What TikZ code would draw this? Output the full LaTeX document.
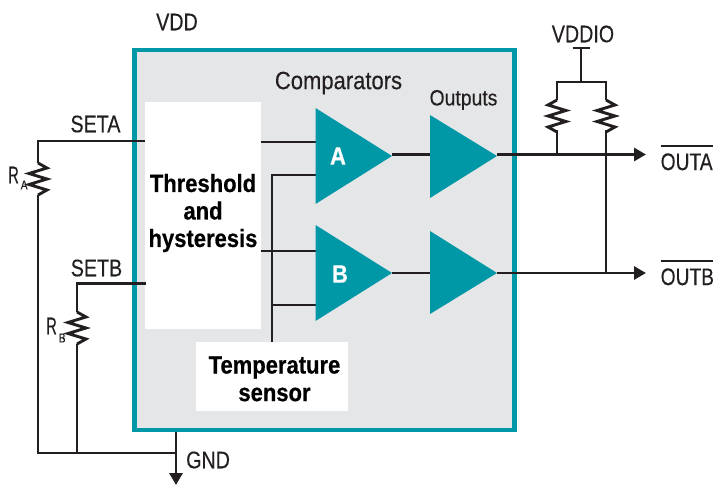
\documentclass[tikz,border=0pt]{standalone}
\usepackage{graphicx}
\usepackage{fontspec}
\setmainfont{Liberation Sans}
\newfontfamily\condreg[FakeStretch=0.82,FakeBold=0.25]{Liberation Sans}
\newfontfamily\condnar[FakeStretch=0.8,FakeBold=0.25]{Liberation Sans}
\newfontfamily\condwide[FakeStretch=0.88,FakeBold=0.25]{Liberation Sans}
\newfontfamily\condbold[FakeStretch=0.88,FakeBold=0.5]{Liberation Sans Bold}
\usetikzlibrary{arrows.meta}
\definecolor{teal1}{HTML}{0097A6}
\definecolor{panel}{HTML}{E5E6E8}
\definecolor{ink}{HTML}{231F20}
\newcommand{\barred}[1]{\vbox{\hrule height 1.6pt\kern 6.5pt\hbox{#1}}}
\tikzset{
  lab/.style={inner sep=0pt,text=ink,font=\condreg\fontsize{24}{28}\selectfont},
  sublab/.style={inner sep=0pt,text=ink,anchor=west,font=\condnar\fontsize{13}{15}\selectfont},
  boldlab/.style={inner sep=0pt,text=black,align=center,font=\condbold\fontsize{25}{27.5}\selectfont},
  gate/.style={fill=teal1,draw=none},
  wire/.style={draw=ink,line width=2.9pt,line join=miter},
  arrowwire/.style={wire,-{Triangle[length=12pt,width=13pt]}},
  whitebox/.style={fill=white,draw=none,inner sep=0pt,outer sep=0pt,anchor=north west},
  pics/resistor/.style={code={
    \draw[wire,pic actions] (0,0) -- (9,5) -- (-9,10.5) -- (9,16) -- (-9,21.5) -- (9,27) -- (0,32);
  }},
  pics/resistorL/.style={code={
    \draw[wire,pic actions] (0,0) -- (-9,5) -- (9,10.5) -- (-9,16) -- (9,21.5) -- (-9,27) -- (0,32);
  }},
}
\begin{document}
\begin{tikzpicture}[x=1pt,y=-1pt]
\useasboundingbox (0,0) rectangle (713,485);
% main panel
\node[fill=panel,draw=teal1,line width=4.4pt,inner sep=0pt,outer sep=0pt,anchor=north west,minimum width=380pt,minimum height=380pt] (chip) at (134.5,50) {};
\node[whitebox,minimum width=116pt,minimum height=227pt] (thr) at (145,102) {};
\node[whitebox,minimum width=152pt,minimum height=69pt] (temp) at (196,342) {};
% coordinates
\coordinate (thrA) at (261,142);
\coordinate (thrB) at (261,251);
\coordinate (gAin) at (316,142);
\coordinate (gAt) at (316,175);
\coordinate (gBin) at (316,251);
\coordinate (gBt) at (316,305);
\coordinate (tA) at (272,175);
\coordinate (tB) at (272,305);
\coordinate (tS) at (272,342);
\coordinate (gAout) at (392,154.5);
\coordinate (gBout) at (392,273);
\coordinate (oA) at (430,154.5);
\coordinate (oB) at (430,273);
\coordinate (oAtip) at (497,154.5);
\coordinate (oBtip) at (497,273);
\coordinate (endA) at (646,154.5);
\coordinate (endB) at (646,273);
\coordinate (vio) at (581,48);
\coordinate (vioj) at (581,82);
\coordinate (r1t) at (557,82);
\coordinate (r2t) at (606,82);
\coordinate (r1top) at (557,100);
\coordinate (r1bot) at (557,130);
\coordinate (r2top) at (606,100);
\coordinate (r2bot) at (606,130);
\coordinate (r1j) at (557,154.5);
\coordinate (r2j) at (606,273);
\coordinate (setAin) at (145,141);
\coordinate (setAc) at (38,141);
\coordinate (raT) at (38,163);
\coordinate (raB) at (38,195);
\coordinate (gndL) at (38,453);
\coordinate (setBin) at (146,283.5);
\coordinate (setBc) at (77,283.5);
\coordinate (rbT) at (77,312);
\coordinate (rbB) at (77,344);
\coordinate (gndB) at (77,453);
\coordinate (gndJ) at (176,453);
\coordinate (gndTop) at (176,432);
\coordinate (gndEnd) at (176,485);
% wires
\draw[wire] (thrA) -- (gAin);
\draw[wire] (thrB) -- (gBin);
\draw[wire] (tS) -- (tA) -- (gAt);
\draw[wire] (tB) -- (gBt);
\draw[wire] (gAout) -- (oA);
\draw[wire] (gBout) -- (oB);
\draw[arrowwire] (oAtip) -- (endA);
\draw[arrowwire] (oBtip) -- (endB);
\draw[wire] (572.5,48) -- (589.5,48);
\draw[wire] (vio) -- (vioj);
\draw[wire] (r1top) -- (r1t) -- (r2t) -- (r2top);
\pic at (r2top) {resistor};
\pic at (r1top) {resistorL};
\draw[wire] (r1bot) -- (r1j);
\draw[wire] (r2bot) -- (r2j);
\draw[wire] (setAin) -- (setAc) -- (raT);
\pic at (raT) {resistor};
\draw[wire] (raB) -- (gndL) -- (gndJ);
\draw[wire] (setBin) -- (setBc) -- (rbT);
\pic at (rbT) {resistor};
\draw[wire] (rbB) -- (gndB);
\draw[arrowwire] (gndTop) -- (gndEnd);
% gates
\path[gate] (315.5,108) -- (392,156) -- (315.5,204) -- cycle;
\path[gate] (315.5,225) -- (392,273) -- (315.5,321) -- cycle;
\path[gate] (430,115) -- (497,156) -- (430,198) -- cycle;
\path[gate] (430,231) -- (497,273) -- (430,314) -- cycle;
% text
\node[boldlab,text=white] (la) at (338,156) {A};
\node[boldlab,text=white] (lb) at (340,274) {B};
\node[boldlab] (lt) at (203,213) {Threshold\\and\\hysteresis};
\node[boldlab] (ls) at (274.5,367.5) {Temperature};
\node[boldlab] (ls2) at (274.5,394.5) {sensor};
\node[lab] (vdd) at (177,22) {VDD};
\node[lab] (vddio) at (583,34) {VDDIO};
\node[lab,font=\condwide\fontsize{25}{28}\selectfont] (cmp) at (338.5,83) {Comparators};
\node[lab,font=\condwide\fontsize{22}{26}\selectfont] (outs) at (463.5,100) {Outputs};
\node[lab] (seta) at (95.5,124) {SETA};
\node[lab] (setb) at (96.5,268) {SETB};
\node[lab,anchor=west] (ra) at (8,175) {\scalebox{0.75}[1]{R}};
\node[sublab] (ras) at (20.5,185) {A};
\node[lab,anchor=west] (rb) at (46,326) {\scalebox{0.75}[1]{R}};
\node[sublab] (rbs) at (58.5,338) {B};
\node[lab,anchor=west] (gnd) at (186,460) {GND};
\node[lab,anchor=north west,font=\condnar\fontsize{24}{28}\selectfont] (outa) at (660.5,145) {\barred{OUTA}};
\node[lab,anchor=north west,font=\condnar\fontsize{24}{28}\selectfont] (outb) at (660.5,260) {\barred{OUTB}};
\end{tikzpicture}
\end{document}
